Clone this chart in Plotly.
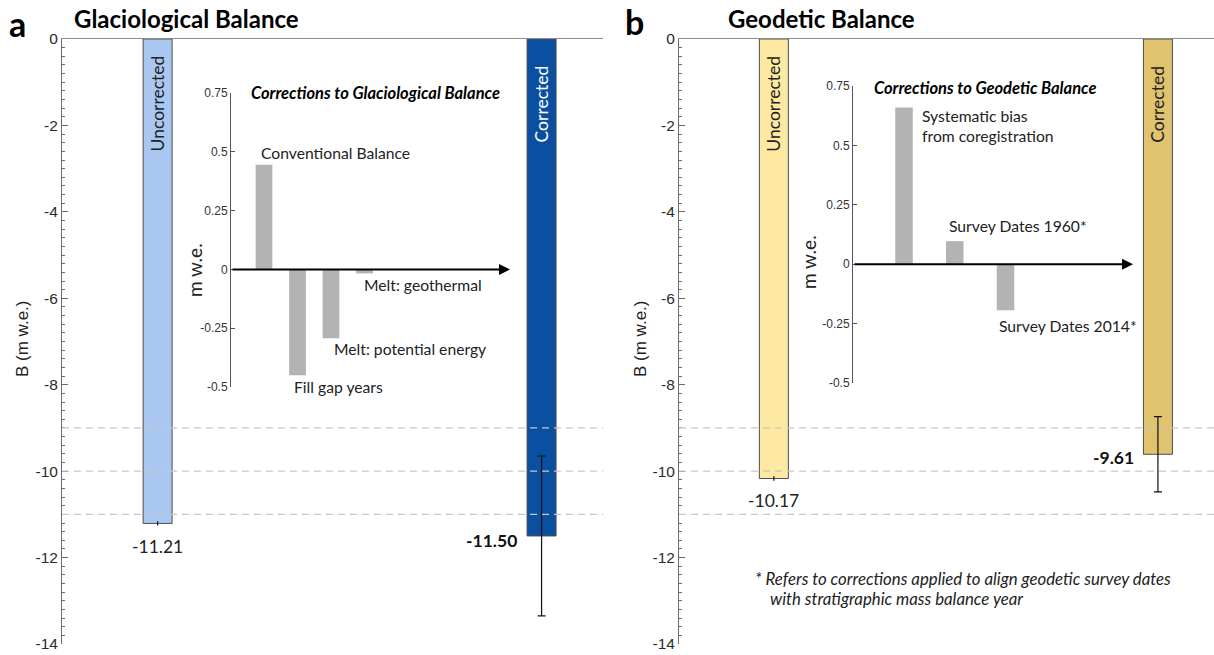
import plotly.graph_objects as go

W, H = 1214, 655

# ---------------- data ----------------
main_categories = ["Uncorrected", "Corrected"]
glacio_balance = [-11.21, -11.50]
glacio_error = [0.05, 1.85]
geodetic_balance = [-10.17, -9.61]
geodetic_error = [0.05, 0.87]

glacio_corr_labels = ["Conventional Balance", "Fill gap years",
                      "Melt: potential energy", "Melt: geothermal"]
glacio_corr_values = [0.445, -0.45, -0.293, -0.017]

geod_corr_labels = ["Systematic bias from coregistration",
                    "Survey Dates 1960*", "Survey Dates 2014*"]
geod_corr_display = ["Systematic bias<br>from coregistration",
                     "Survey Dates 1960*", "Survey Dates 2014*"]
geod_corr_values = [0.66, 0.097, -0.194]

main_ticks = [0, -2, -4, -6, -8, -10, -12, -14]
main_ticktext = ["0", "-2", "-4", "-6", "-8", "-10", "-12", "-14"]
inset_ticks = [0.75, 0.5, 0.25, 0, -0.25, -0.5]
inset_ticktext = ["0.75", "0.5", "0.25", "0", "-0.25", "-0.5"]
ref_lines = [-9, -10, -11]

# ---------------- styles ----------------
CAL = "Lato"
ARI = "Liberation Sans"
colors_a = ["#a9c7f0", "#0b4fa1"]
colors_b = ["#fde9a1", "#dfc36f"]
bar_text_colors_a = ["#222222", "#ffffff"]
bar_text_colors_b = ["#222222", "#222222"]
GRAY_BAR = "#b3b3b3"


def px(p):
    return p / W


def py(p):
    return 1 - p / H


fig = go.Figure()

main_bar_w = 0.0755
xa_range = [-0.249, 1.160]
xb_range = [-0.247, 1.146]
x3_range = [-0.985, 7.343]
x4_range = [-1.005, 4.512]

# main bars
for panel, vals, errs, cols, ax in [
    ("a", glacio_balance, glacio_error, colors_a, ("x", "y")),
    ("b", geodetic_balance, geodetic_error, colors_b, ("x2", "y2")),
]:
    for i, cat in enumerate(main_categories):
        fig.add_trace(go.Bar(
            x=[cat], y=[vals[i]], width=main_bar_w,
            marker=dict(color=cols[i], line=dict(color="#4d4d4d", width=1)),
            error_y=dict(type="data", array=[errs[i]], color="#111111",
                         thickness=1.2, width=(4 if i == 1 else 0)),
            xaxis=ax[0], yaxis=ax[1], showlegend=False, hoverinfo="skip",
        ))

# inset bars
fig.add_trace(go.Bar(x=glacio_corr_labels, y=glacio_corr_values, width=0.5,
                     marker=dict(color=GRAY_BAR, line=dict(width=0)),
                     xaxis="x3", yaxis="y3", showlegend=False))
fig.add_trace(go.Bar(x=geod_corr_labels, y=geod_corr_values, width=0.345,
                     marker=dict(color=GRAY_BAR, line=dict(width=0)),
                     xaxis="x4", yaxis="y4", showlegend=False))

main_y = dict(range=[-14, 0], showline=True, linecolor="#6b6b6b", linewidth=1,
              ticks="inside", ticklen=6, tickcolor="#6b6b6b", tickwidth=1,
              tickmode="array", tickvals=main_ticks, ticktext=main_ticktext,
              tickfont=dict(family=ARI, size=15.5, color="#2b2b2b"),
              minor=dict(tickmode="linear", tick0=0, dtick=0.2, ticks="inside",
                         ticklen=3, tickcolor="#6b6b6b"),
              showgrid=False, zeroline=False, fixedrange=True, automargin=False)
main_x = dict(type="category", categoryorder="array", categoryarray=main_categories,
              side="top", showline=True, linecolor="#8c8c8c", linewidth=1,
              showticklabels=False, ticks="", showgrid=False, zeroline=False,
              automargin=False)
inset_y = dict(range=[-0.5, 0.75], showline=True, linecolor="#555555", linewidth=1,
               ticks="inside", ticklen=4, tickcolor="#555555",
               tickmode="array", tickvals=inset_ticks, ticktext=inset_ticktext,
               tickfont=dict(family=ARI, size=12, color="#333333"),
               showgrid=False, zeroline=False, automargin=False)
inset_x = dict(type="category", visible=False, showgrid=False, zeroline=False,
               automargin=False)

fig.update_layout(
    template="none",
    width=W, height=H, margin=dict(l=0, r=0, t=0, b=0, pad=0, autoexpand=False),
    paper_bgcolor="white", plot_bgcolor="rgba(0,0,0,0)",
    barmode="overlay", showlegend=False,
    xaxis=dict(main_x, domain=[px(62), px(603)], range=xa_range, anchor="y"),
    yaxis=dict(main_y, domain=[py(644), py(39)], anchor="x"),
    xaxis2=dict(main_x, domain=[px(679), 1.0], range=xb_range, anchor="y2"),
    yaxis2=dict(main_y, domain=[py(644), py(39)], anchor="x2"),
    xaxis3=dict(inset_x, domain=[px(231), px(510)], range=x3_range, anchor="y3",
                categoryorder="array", categoryarray=glacio_corr_labels),
    yaxis3=dict(inset_y, domain=[py(387), py(93)], anchor="x3"),
    xaxis4=dict(inset_x, domain=[px(853), px(1133)], range=x4_range, anchor="y4",
                categoryorder="array", categoryarray=geod_corr_labels),
    yaxis4=dict(inset_y, domain=[py(383), py(86)], anchor="x4"),
)

# dashed reference lines
for xr, yr in [("x domain", "y"), ("x2 domain", "y2")]:
    for v in ref_lines:
        fig.add_shape(type="line", xref=xr, yref=yr, x0=0, x1=1, y0=v, y1=v,
                      line=dict(color="#c8c8c8", width=1.3, dash="7px,5px"),
                      layer="above")

ann = []
# arrows as inset x-axes
for xr, yr, rng in [("x3", "y3", x3_range), ("x4", "y4", x4_range)]:
    ann.append(dict(x=rng[1], y=0, ax=rng[0], ay=0, xref=xr, yref=yr, axref=xr, ayref=yr,
                    text="", showarrow=True, arrowhead=2, arrowsize=1.1, arrowwidth=2,
                    arrowcolor="black", standoff=0, startstandoff=0))

# panel letters and titles
ann += [
    dict(x=px(7), y=py(24), xref="paper", yref="paper", xanchor="left", yanchor="middle",
         text="<b>a</b>", showarrow=False, font=dict(family=CAL, size=34, color="black")),
    dict(x=px(72), y=py(18), xref="paper", yref="paper", xanchor="left", yanchor="middle",
         text="<b>Glaciological Balance</b>", showarrow=False,
         font=dict(family=CAL, size=24, color="black")),
    dict(x=px(623), y=py(22), xref="paper", yref="paper", xanchor="left", yanchor="middle",
         text="<b>b</b>", showarrow=False, font=dict(family=CAL, size=34, color="black")),
    dict(x=px(726), y=py(18), xref="paper", yref="paper", xanchor="left", yanchor="middle",
         text="<b>Geodetic Balance</b>", showarrow=False,
         font=dict(family=CAL, size=24, color="black")),
]

# y-axis titles
for xp in (22, 640):
    ann.append(dict(x=px(xp), y=py(339), xref="paper", yref="paper", xanchor="center",
                    yanchor="middle", text="B (m w.e.)", textangle=-90, showarrow=False,
                    font=dict(family=ARI, size=17, color="#222222")))
for xp, yp in ((194, 270), (808, 262)):
    ann.append(dict(x=px(xp), y=py(yp), xref="paper", yref="paper", xanchor="center",
                    yanchor="middle", text="m w.e.", textangle=-90, showarrow=False,
                    font=dict(family=CAL, size=19, color="#222222")))

# inset titles
ann.append(dict(x=px(249), y=py(93), xref="paper", yref="paper", xanchor="left",
                yanchor="middle", text="<b><i>Corrections to Glaciological Balance</i></b>",
                showarrow=False, font=dict(family=CAL, size=16.5, color="black")))
ann.append(dict(x=px(872), y=py(88), xref="paper", yref="paper", xanchor="left",
                yanchor="middle", text="<b><i>Corrections to Geodetic Balance</i></b>",
                showarrow=False, font=dict(family=CAL, size=16.5, color="black")))

# inset bar labels (positions in inset axis units, kept inside the axis range)
glacio_label_pos = [(-0.15, 0.493, 0), (0.836, -0.49, -2), (2.03, -0.34, 0),
                    (2.925, -0.068, 0)]
for lab, (xx, yy, ys) in zip(glacio_corr_labels, glacio_label_pos):
    ann.append(dict(x=xx, y=yy, xref="x3", yref="y3", xanchor="left", yanchor="middle",
                    yshift=ys, text=lab, showarrow=False,
                    font=dict(family=CAL, size=15.7, color="#222222")))
geod_label_pos = [(0.315, 0.581), (0.847, 0.16), (1.83, -0.261)]
for lab, (xx, yy) in zip(geod_corr_display, geod_label_pos):
    ann.append(dict(x=xx, y=yy, xref="x4", yref="y4", xanchor="left", yanchor="middle",
                    text=lab, showarrow=False, align="left",
                    font=dict(family=CAL, size=15.7, color="#222222")))

# text inside main bars
for xr, yr, tcols in [("x", "y", bar_text_colors_a), ("x2", "y2", bar_text_colors_b)]:
    for i, cat in enumerate(main_categories):
        ann.append(dict(x=cat, y=-1.5, xref=xr, yref=yr, xanchor="center", yanchor="middle",
                        text=cat, textangle=-90, showarrow=False,
                        font=dict(family=CAL, size=17.5, color=tcols[i])))

# value labels
for xr, yr, vals, shifts in [("x", "y", glacio_balance, (-23, -22.5, -5)),
                             ("x2", "y2", geodetic_balance, (-22, -21.5, -3))]:
    ann.append(dict(x=main_categories[0], y=vals[0], xref=xr, yref=yr, xanchor="center",
                    yanchor="middle", yshift=shifts[0], text=f"{vals[0]:.2f}",
                    showarrow=False, font=dict(family=CAL, size=17.5, color="#222222")))
    ann.append(dict(x=main_categories[1], y=vals[1], xref=xr, yref=yr, xanchor="right",
                    yanchor="middle", xshift=shifts[1], yshift=shifts[2],
                    text=f"<b>{vals[1]:.2f}</b>", showarrow=False,
                    font=dict(family=CAL, size=17.5, color="#111111")))

# footnote
ann.append(dict(x=px(753), y=py(578), xref="paper", yref="paper", xanchor="left",
                yanchor="middle",
                text="<i>* Refers to corrections applied to align geodetic survey dates</i>",
                showarrow=False, font=dict(family=CAL, size=16.8, color="#222222")))
ann.append(dict(x=px(768), y=py(598), xref="paper", yref="paper", xanchor="left",
                yanchor="middle", text="<i>with stratigraphic mass balance year</i>",
                showarrow=False, font=dict(family=CAL, size=16.8, color="#222222")))

fig.update_layout(annotations=ann)
fig.write_html("out.html")
